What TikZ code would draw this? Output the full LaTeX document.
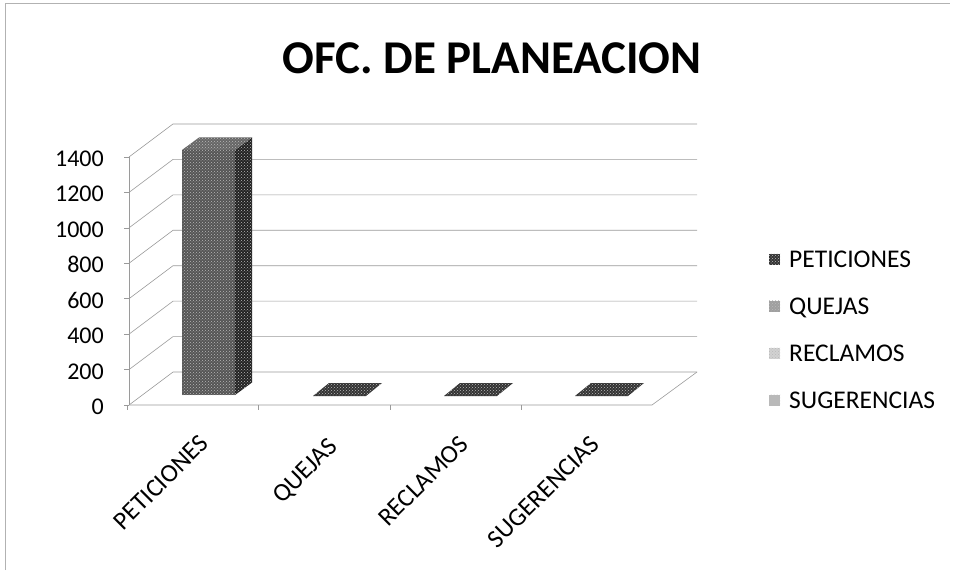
\documentclass[tikz,border=0pt]{standalone}
\usepackage{fontspec}
\setmainfont{Carlito}
\usetikzlibrary{patterns}
\definecolor{barfront}{HTML}{555555}
\definecolor{barside}{HTML}{222222}
\definecolor{bartop}{HTML}{666666}
\definecolor{flatbar}{HTML}{333333}
\definecolor{gridcol}{HTML}{9A9A9A}
\begin{document}
\begin{tikzpicture}[x=1pt,y=-1pt]
\useasboundingbox (0,0) rectangle (955,572);
\tikzset{
  gridline/.style={gridcol,line width=0.6pt},
  lbl/.style={font=\fontsize{24}{27}\selectfont, inner sep=0pt},
  leglbl/.style={font=\fontsize{25.5}{28}\selectfont, inner sep=0pt},
  texture/.style={postaction={pattern=crosshatch dots, pattern color=gray!55}},
  legbox/.style={minimum width=11pt, minimum height=11pt, inner sep=0pt, texture}
}
% chart border
\draw[gray!60, line width=0.6pt] (5,570) -- (5,3) -- (950,3);
% title
\node[font=\fontsize{47}{52}\selectfont\bfseries, inner sep=0pt] (title) at (492,58) {OFC. DE PLANEACION};
% walls and gridlines
\foreach \k/\v in {0/0,1/200,2/400,3/600,4/800,5/1000,6/1200,7/1400}{
  \pgfmathsetmacro{\yy}{405-35.43*\k}
  \draw[gridline] (129,\yy) -- (173,{\yy-33}) -- (697,{\yy-33});
  \draw[gridline] (124,\yy) -- (129,\yy);
  \node[lbl, anchor=base east] (ylab\k) at (104,{\yy+9.5}) {\v};
}
\draw[gridline] (129,157) -- (129,405);
% floor
\draw[gridline] (129,405) -- (652,405) -- (697,372);
\foreach \t in {127,258,390,521}{
  \draw[gridline] (\t,405) -- (\t,410);
}
% PETICIONES bar
\fill[barfront, texture] (182,150) rectangle (235,395);
\fill[barside, texture] (235,150) -- (252,137.5) -- (252,382.5) -- (235,395) -- cycle;
\fill[bartop, texture] (182,150) -- (199,137.5) -- (252,137.5) -- (235,150) -- cycle;
% flat bars
\foreach \xo in {313,444,575}{
  \fill[flatbar, texture] (\xo,396) -- ({\xo+53},396) -- ({\xo+69},383) -- ({\xo+16},383) -- cycle;
}
% category labels
\node[leglbl, rotate=45, anchor=north east] (c1) at (198,433) {PETICIONES};
\node[leglbl, rotate=45, anchor=north east] (c2) at (327,436) {QUEJAS};
\node[leglbl, rotate=45, anchor=north east] (c3) at (458,434) {RECLAMOS};
\node[leglbl, rotate=45, anchor=north east] (c4) at (589,434) {SUGERENCIAS};
% legend
\node[legbox, fill=flatbar] (lb1) at (774.5,259) {};
\node[legbox, fill=gray!75] (lb2) at (774.5,306) {};
\node[legbox, fill=gray!35] (lb3) at (774.5,353) {};
\node[legbox, fill=gray!55] (lb4) at (774.5,400) {};
\node[leglbl, anchor=base west] (l1) at (789,267) {PETICIONES};
\node[leglbl, anchor=base west] (l2) at (789,314) {QUEJAS};
\node[leglbl, anchor=base west] (l3) at (789,361) {RECLAMOS};
\node[leglbl, anchor=base west] (l4) at (789,408) {SUGERENCIAS};
\end{tikzpicture}
\end{document}
